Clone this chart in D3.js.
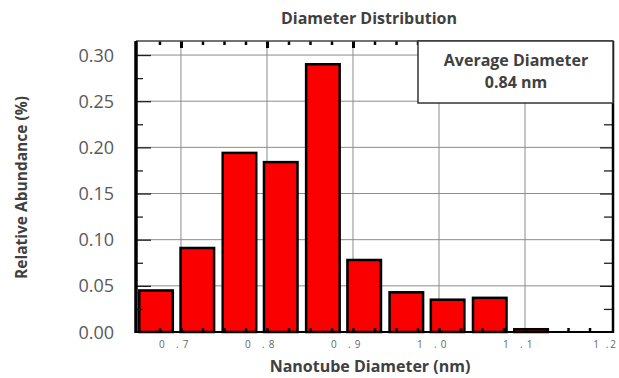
<!DOCTYPE html>
<html>
<head>
<meta charset="utf-8">
<script src="https://cdn.jsdelivr.net/npm/d3@7"></script>
<style>
  body { margin: 0; background: #fff; }
  text { font-family: "Open Sans", sans-serif; }
</style>
</head>
<body>
<div id="chart"></div>
<script>
// bin centres (nm) and relative abundance
const diameters = [0.671, 0.719, 0.768, 0.816, 0.865, 0.913, 0.962, 1.010, 1.059, 1.107];
const abundance = [0.045, 0.091, 0.194, 0.184, 0.290, 0.078, 0.043, 0.035, 0.037, 0.003];
const xTicks = [0.7, 0.8, 0.9, 1.0, 1.1, 1.2];
const xTickLabels = ["0 .7", "0 .8", "0 .9", "1 .0", "1 .1", "1 .2"];
const yTicks = [0, 0.05, 0.10, 0.15, 0.20, 0.25, 0.30];
const avgDiameter = "0.84 nm";

const W = 619, H = 378;
const pLeft = 136, pRight = 613, pTop = 41, pBottom = 332;
const halfBin = 0.0195;

const x = d3.scaleLinear()
    .domain([0.6477, 1.2023])
    .range([pLeft, pRight]);

const y = d3.scaleLinear()
    .domain([0, 0.3152])
    .range([pBottom, pTop]);

const svg = d3.select('#chart').append('svg')
    .attr('width', W)
    .attr('height', H);

// grid
svg.append('g').selectAll('line')
    .data(yTicks.slice(1))
    .join('line')
    .attr('x1', pLeft).attr('x2', pRight)
    .attr('y1', d => y(d)).attr('y2', d => y(d))
    .style('stroke', '#8c8c8c').style('stroke-width', 1);

svg.append('g').selectAll('line')
    .data(xTicks.slice(0, -1))
    .join('line')
    .attr('x1', d => x(d)).attr('x2', d => x(d))
    .attr('y1', pTop).attr('y2', pBottom)
    .style('stroke', '#8c8c8c').style('stroke-width', 1);

// bars
svg.append('g').selectAll('rect')
    .data(diameters)
    .join('rect')
    .attr('x', d => x(d - halfBin))
    .attr('width', d => x(d + halfBin) - x(d - halfBin))
    .attr('y', (d, i) => y(abundance[i]))
    .attr('height', (d, i) => y(0) - y(abundance[i]))
    .style('fill', '#fa0000')
    .style('stroke', '#000')
    .style('stroke-width', 2.5);

// ticks, all pointing inward
const xMinor = d3.range(0.675, 1.19, 0.025);
const isMajor = d => Math.abs(d * 10 - Math.round(d * 10)) < 1e-6;

svg.append('g')
    .attr('transform', 'translate(0,' + pBottom + ')')
    .call(d3.axisTop(x).tickValues(xMinor).tickSize(4).tickFormat(''))
    .call(g => g.select('.domain').remove())
    .call(g => g.selectAll('line').style('stroke-width', 2.5));

svg.append('g')
    .attr('transform', 'translate(0,' + pTop + ')')
    .call(d3.axisBottom(x).tickValues(xMinor).tickSize(4).tickFormat(''))
    .call(g => g.select('.domain').remove())
    .call(g => g.selectAll('line')
        .attr('y2', d => isMajor(d) ? 7 : 4)
        .style('stroke-width', d => isMajor(d) ? 3 : 2.5));

const yMinor = d3.range(0.025, 0.31, 0.025);
const isYMajor = d => Math.abs(d * 20 - Math.round(d * 20)) < 1e-6;

svg.append('g')
    .attr('transform', 'translate(' + pLeft + ',0)')
    .call(d3.axisRight(y).tickValues(yMinor).tickSize(7).tickFormat(''))
    .call(g => g.select('.domain').remove())
    .call(g => g.selectAll('line')
        .attr('x2', d => isYMajor(d) ? 15 : 7)
        .style('stroke', '#222')
        .style('stroke-width', 1.3));

svg.append('g')
    .attr('transform', 'translate(' + pRight + ',0)')
    .call(d3.axisLeft(y).tickValues(yMinor).tickSize(9).tickFormat(''))
    .call(g => g.select('.domain').remove())
    .call(g => g.selectAll('line')
        .attr('x2', d => isYMajor(d) ? -13 : -9)
        .style('stroke', '#222')
        .style('stroke-width', 1.3));

// frame
svg.append('line').attr('x1', pLeft).attr('x2', pRight).attr('y1', pTop).attr('y2', pTop)
    .style('stroke', '#444').style('stroke-width', 1.5);
svg.append('line').attr('x1', pLeft - 1).attr('x2', pRight + 1).attr('y1', pBottom).attr('y2', pBottom)
    .style('stroke', '#000').style('stroke-width', 2);
svg.append('line').attr('x1', pLeft).attr('x2', pLeft).attr('y1', pTop).attr('y2', pBottom + 1)
    .style('stroke', '#000').style('stroke-width', 3.5);
svg.append('line').attr('x1', pRight).attr('x2', pRight).attr('y1', pTop).attr('y2', pBottom + 1)
    .style('stroke', '#000').style('stroke-width', 2.5);

// y tick labels
svg.append('g').selectAll('text')
    .data(yTicks)
    .join('text')
    .attr('x', 114)
    .attr('y', d => y(d) + 6.5)
    .attr('text-anchor', 'end')
    .style('font-size', '18px')
    .style('fill', '#595959')
    .text(d => d3.format('.2f')(d));

// x tick labels (spaced out like the original export); last one kept inside the frame
svg.append('g').selectAll('text')
    .data(xTicks)
    .join('text')
    .attr('x', (d, i) => i === xTicks.length - 1 ? W - 1 : x(d) - 22)
    .attr('y', 348)
    .attr('text-anchor', (d, i) => i === xTicks.length - 1 ? 'end' : 'start')
    .style('font-size', '10px')
    .style('letter-spacing', (d, i) => i === xTicks.length - 1 ? '2px' : '4.3px')
    .style('white-space', 'pre')
    .style('fill', '#666')
    .text((d, i) => xTickLabels[i]);

// legend box
svg.append('rect')
    .attr('x', 418).attr('y', pTop)
    .attr('width', pRight - 418).attr('height', 62)
    .style('fill', '#fff')
    .style('stroke', '#333')
    .style('stroke-width', 1.5);

svg.append('text')
    .attr('x', 516).attr('y', 66)
    .attr('text-anchor', 'middle')
    .style('font-size', '16px').style('font-weight', 'bold').style('fill', '#404040')
    .text('Average Diameter');

svg.append('text')
    .attr('x', 516).attr('y', 88)
    .attr('text-anchor', 'middle')
    .style('font-size', '16px').style('font-weight', 'bold').style('fill', '#404040')
    .text(avgDiameter);

// titles
svg.append('text')
    .attr('x', 369).attr('y', 24)
    .attr('text-anchor', 'middle')
    .style('font-size', '16px').style('font-weight', 'bold').style('fill', '#404040')
    .text('Diameter Distribution');

svg.append('text')
    .attr('x', 370).attr('y', 372)
    .attr('text-anchor', 'middle')
    .style('font-size', '16px').style('font-weight', 'bold').style('fill', '#404040')
    .text('Nanotube Diameter (nm)');

svg.append('text')
    .attr('transform', 'translate(27,187.5) rotate(-90)')
    .attr('text-anchor', 'middle')
    .style('font-size', '15.5px').style('font-weight', 'bold').style('fill', '#404040')
    .text('Relative Abundance (%)');
</script>
</body>
</html>
